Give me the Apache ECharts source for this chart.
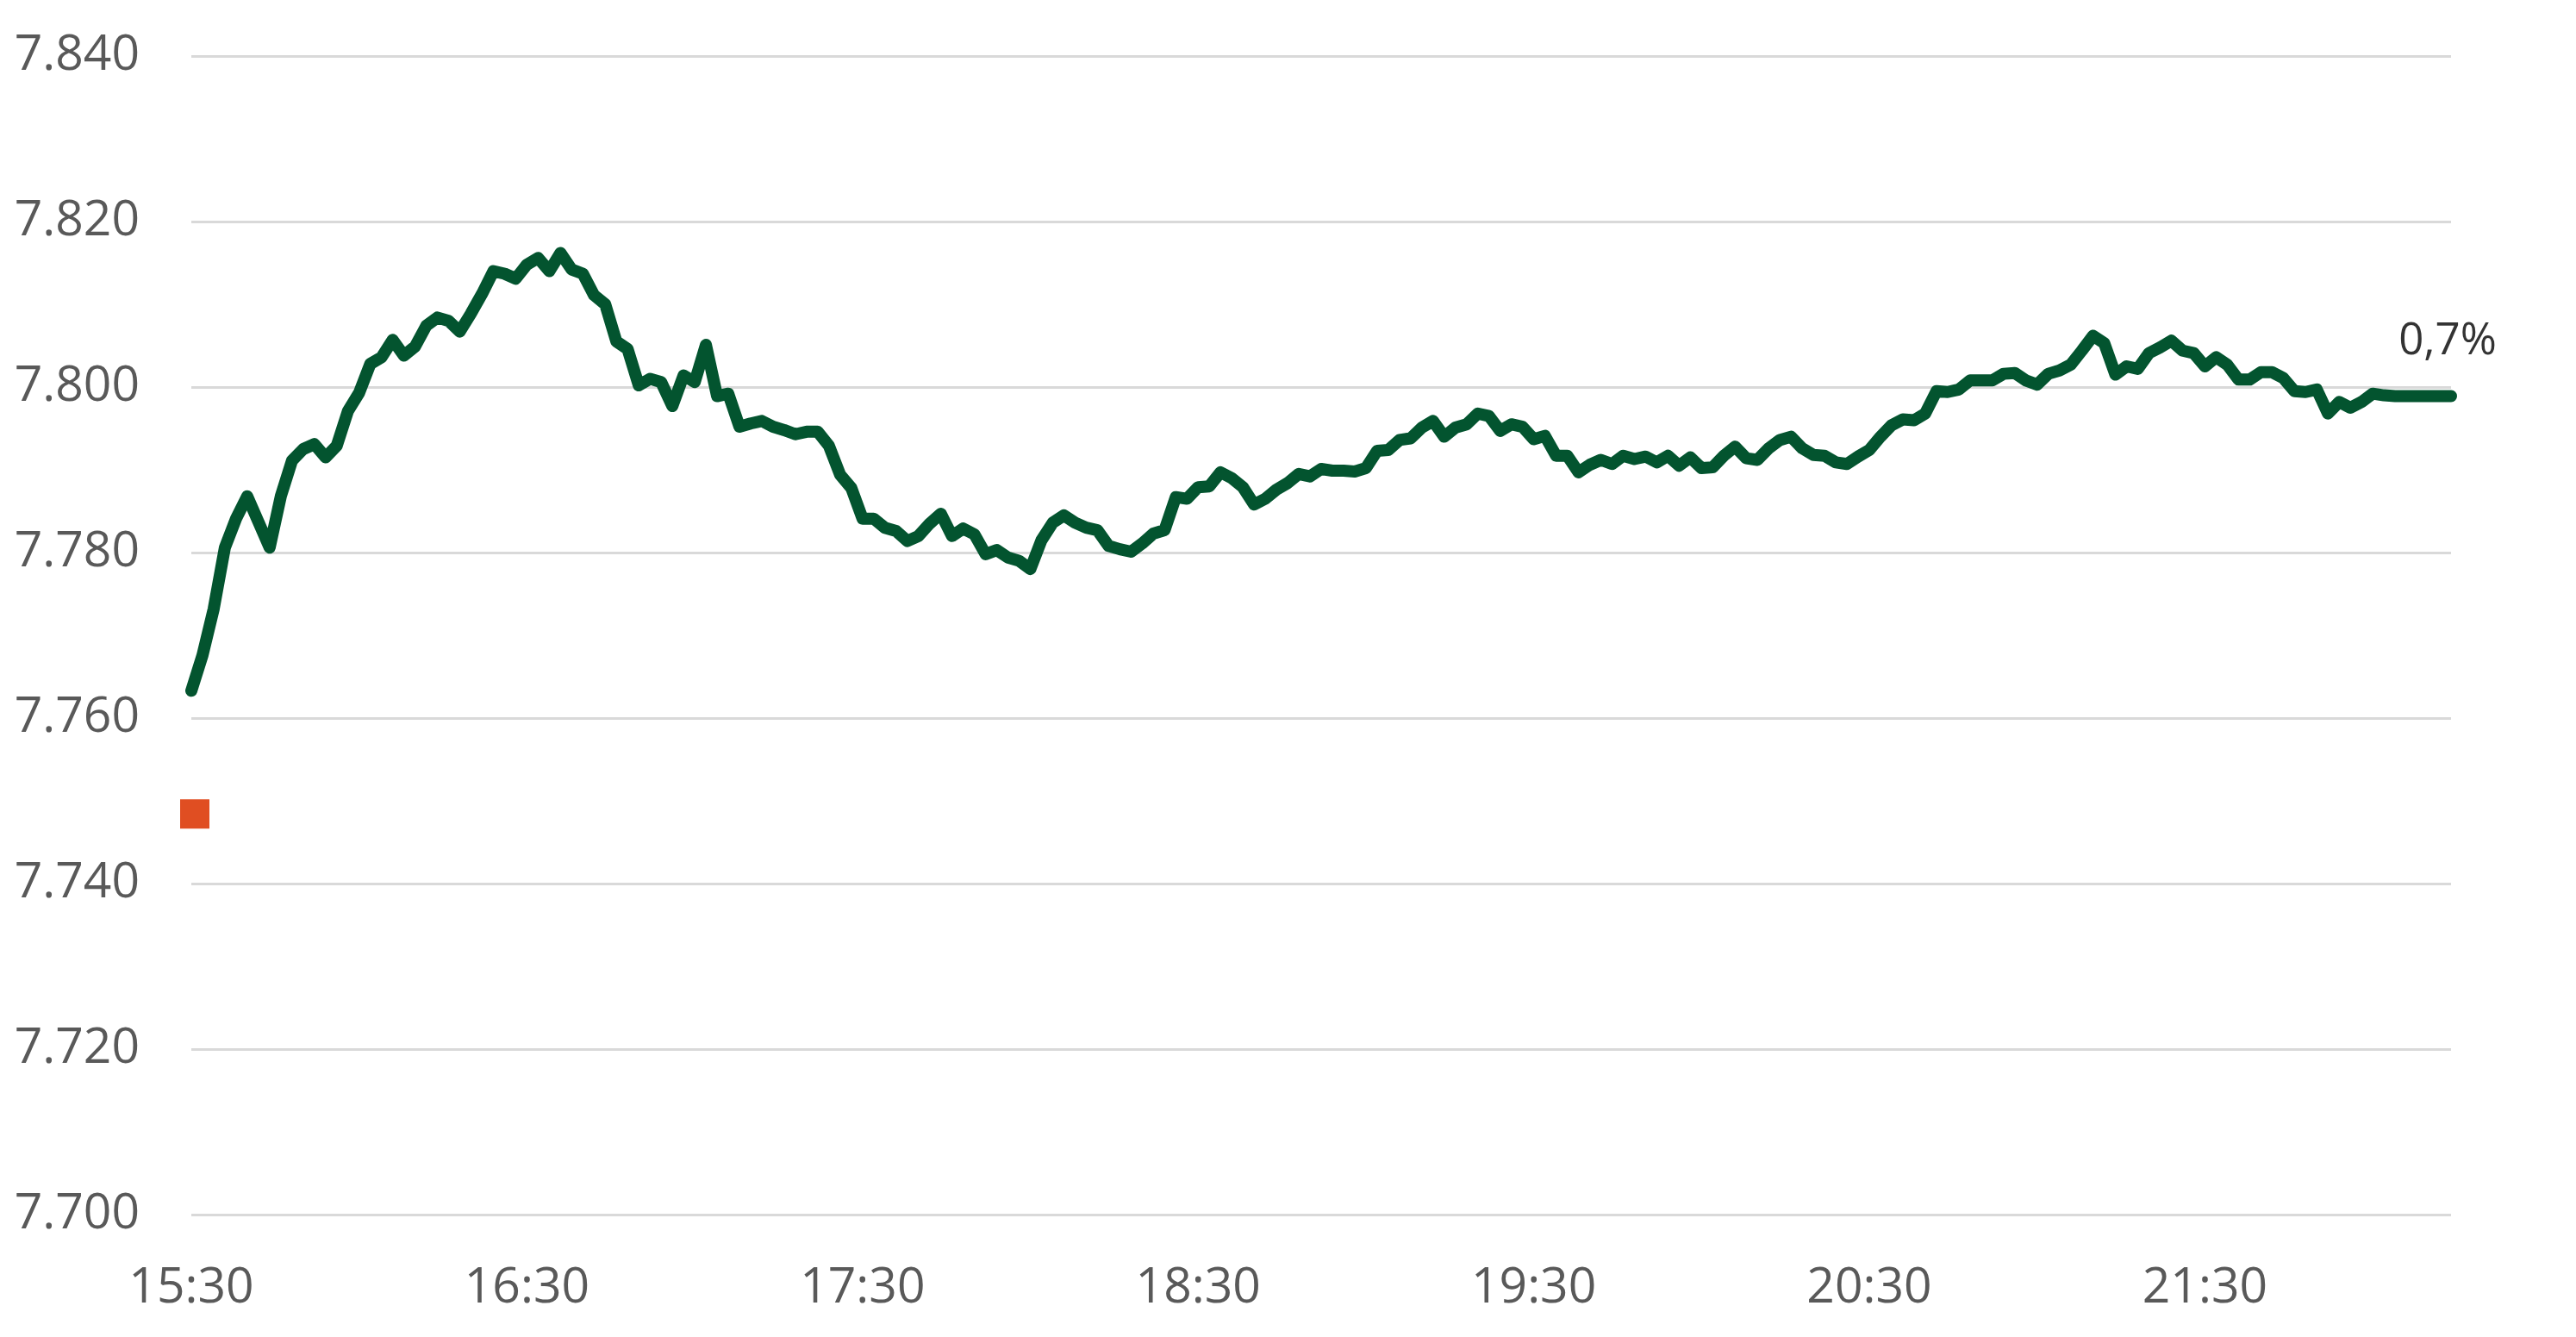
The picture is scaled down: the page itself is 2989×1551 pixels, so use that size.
<!DOCTYPE html>
<html>
<head>
<meta charset="utf-8">
<script src="https://cdn.jsdelivr.net/npm/echarts@6/dist/echarts.min.js"></script>
<style>
html,body{margin:0;padding:0;background:#fff;}
#chart{width:2989px;height:1551px;}
</style>
</head>
<body>
<div id="chart"></div>
<script>
// Index level, one point every 2 minutes from 15:30
const startTime = '15:30';
const stepMinutes = 2;
const indexValues = [
7763.3,7767.6,7773.2,7780.6,7784.1,7786.8,7783.7,7780.6,7786.8,7791.1,
7792.5,7793.1,7791.5,7792.9,7797.1,7799.3,7802.8,7803.6,7805.7,7803.8,
7804.9,7807.4,7808.4,7808.0,7806.7,7808.9,7811.3,7814.0,7813.7,7813.1,
7814.8,7815.6,7814.0,7816.2,7814.2,7813.7,7811.1,7810.0,7805.5,7804.6,
7800.2,7801.0,7800.6,7797.7,7801.4,7800.6,7805.1,7798.9,7799.2,7795.2,
7795.6,7795.9,7795.2,7794.8,7794.3,7794.6,7794.6,7792.9,7789.4,7787.8,
7784.1,7784.1,7783.0,7782.6,7781.4,7782.0,7783.5,7784.7,7782.0,7782.9,
7782.2,7779.8,7780.3,7779.4,7779.0,7778.0,7781.5,7783.6,7784.5,7783.6,
7783.0,7782.7,7780.8,7780.4,7780.1,7781.1,7782.3,7782.7,7786.7,7786.5,
7787.9,7788.0,7789.7,7789.0,7787.9,7785.8,7786.5,7787.6,7788.4,7789.5,
7789.2,7790.1,7789.9,7789.9,7789.8,7790.2,7792.3,7792.4,7793.6,7793.8,
7795.1,7795.9,7794.0,7795.1,7795.5,7796.8,7796.5,7794.7,7795.5,7795.2,
7793.7,7794.1,7791.7,7791.7,7789.7,7790.6,7791.2,7790.7,7791.7,7791.3,
7791.6,7790.9,7791.7,7790.5,7791.5,7790.2,7790.3,7791.7,7792.8,7791.4,
7791.2,7792.6,7793.6,7794.0,7792.6,7791.8,7791.7,7790.9,7790.7,7791.6,
7792.4,7794.0,7795.4,7796.1,7796.0,7796.8,7799.5,7799.4,7799.7,7800.8,
7800.8,7800.8,7801.6,7801.7,7800.8,7800.3,7801.6,7802.0,7802.7,7804.4,
7806.2,7805.3,7801.5,7802.5,7802.2,7804.1,7804.8,7805.6,7804.4,7804.1,
7802.5,7803.6,7802.7,7800.9,7800.9,7801.8,7801.8,7801.1,7799.5,7799.4,
7799.7,7796.8,7798.2,7797.5,7798.2,7799.2,7799.0,7798.9,7798.9,7798.9,
7798.9,7798.9,7798.9
];
const referenceValue = 7748.4;      // orange marker at the open
const endLabelText = '0,7%';
const yTicks = {min: 7700, max: 7840, step: 20};

const categories = [];
(function(){
  const [h0, m0] = startTime.split(':').map(Number);
  for (let i = 0; i < indexValues.length; i++) {
    const t = h0 * 60 + m0 + i * stepMinutes;
    const h = Math.floor(t / 60), m = t % 60;
    categories.push(h + ':' + (m < 10 ? '0' : '') + m);
  }
})();
const lastIdx = indexValues.length - 1;

const chart = echarts.init(document.getElementById('chart'), null, {renderer: 'canvas'});
const axisFont = {fontFamily: 'Open Sans', fontSize: 57, color: '#595959'};
chart.setOption({
  animation: false,
  backgroundColor: '#ffffff',
  grid: {left: 222, right: 145, top: 65, bottom: 142, containLabel: false},
  xAxis: {
    type: 'category',
    data: categories,
    boundaryGap: false,
    axisLine: {show: false},
    axisTick: {show: false},
    splitLine: {show: false},
    axisLabel: Object.assign({interval: 29, margin: 57}, axisFont)
  },
  yAxis: {
    type: 'value',
    min: yTicks.min,
    max: yTicks.max,
    interval: yTicks.step,
    axisLine: {show: false},
    axisTick: {show: false},
    splitLine: {lineStyle: {color: '#D9D9D9', width: 3}},
    axisLabel: Object.assign({
      margin: 60,
      formatter: function (v) {
        const s = String(Math.round(v));
        return s.slice(0, s.length - 3) + '.' + s.slice(-3);
      }
    }, axisFont)
  },
  series: [
    {
      type: 'scatter',
      data: [[0, referenceValue]],
      symbol: 'rect',
      symbolSize: 34,
      symbolOffset: [4, 0],
      itemStyle: {color: '#E04E22', opacity: 1},
      z: 1
    },
    {
      type: 'line',
      data: indexValues,
      showSymbol: false,
      symbol: 'none',
      lineStyle: {color: '#03542F', width: 14, cap: 'round', join: 'round'},
      z: 3
    },
    {
      type: 'scatter',
      data: [[lastIdx, indexValues[lastIdx]]],
      symbolSize: 0,
      itemStyle: {color: 'rgba(0,0,0,0)'},
      label: {
        show: true,
        position: 'top',
        distance: 38,
        offset: [-4, 0],
        formatter: endLabelText,
        fontFamily: 'Open Sans',
        fontSize: 51,
        color: '#000000'
      },
      z: 4
    }
  ]
});
</script>
</body>
</html>
